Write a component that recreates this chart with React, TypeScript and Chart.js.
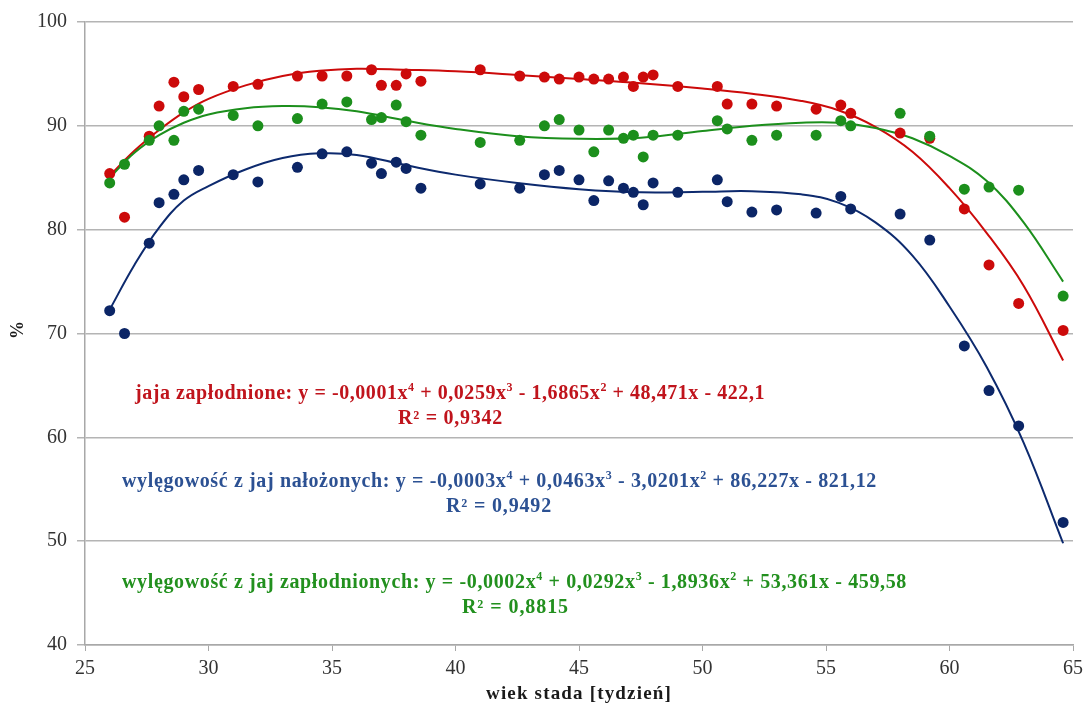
import React, { useEffect, useRef } from "react";
import { Chart, registerables } from "chart.js";

Chart.register(...registerables);

// wiek stada [tydzień]
const weeks = [26, 26.6, 27.6, 28, 28.6, 29, 29.6, 31, 32, 33.6, 34.6, 35.6, 36.6, 37, 37.6, 38, 38.6, 41, 42.6, 43.6, 44.2, 45, 45.6, 46.2, 46.8, 47.2, 47.6, 48, 49, 50.6, 51, 52, 53, 54.6, 55.6, 56, 58, 59.2, 60.6, 61.6, 62.8, 64.6];

const jajaZaplodnione = [85.4, 81.2, 89.0, 91.9, 94.2, 92.8, 93.5, 93.8, 94.0, 94.8, 94.8, 94.8, 95.4, 93.9, 93.9, 95.0, 94.3, 95.4, 94.8, 94.7, 94.5, 94.7, 94.5, 94.5, 94.7, 93.8, 94.7, 94.9, 93.8, 93.8, 92.1, 92.1, 91.9, 91.6, 92.0, 91.2, 89.3, 88.8, 82.0, 76.6, 72.9, 70.3];

const wylegNalozonych = [72.2, 70.0, 78.7, 82.6, 83.4, 84.8, 85.7, 85.3, 84.6, 86.0, 87.3, 87.5, 86.4, 85.4, 86.5, 85.9, 84.0, 84.4, 84.0, 85.3, 85.7, 84.8, 82.8, 84.7, 84.0, 83.6, 82.4, 84.5, 83.6, 84.8, 82.7, 81.7, 81.9, 81.6, 83.2, 82.0, 81.5, 79.0, 68.8, 64.5, 61.1, 51.8];

const wylegZaplodnionych = [84.5, 86.3, 88.6, 90.0, 88.6, 91.4, 91.6, 91.0, 90.0, 90.7, 92.1, 92.3, 90.6, 90.8, 92.0, 90.4, 89.1, 88.4, 88.6, 90.0, 90.6, 89.6, 87.5, 89.6, 88.8, 89.1, 87.0, 89.1, 89.1, 90.5, 89.7, 88.6, 89.1, 89.1, 90.5, 90.0, 91.2, 89.0, 83.9, 84.1, 83.8, 73.6];

// trend lines
const trendRedX = [26, 27, 28, 29, 30, 31.5, 33, 34.5, 36, 38, 40, 42.5, 45, 47.5, 50, 52, 54, 55.5, 57, 58.5, 60, 61.5, 63, 64.6];
const trendRedY = [85.2, 87.6, 89.6, 91.3, 92.6, 93.9, 94.8, 95.3, 95.5, 95.4, 95.25, 94.9, 94.5, 94.1, 93.6, 93.1, 92.4, 91.5, 89.9, 87.5, 84.0, 79.7, 74.6, 67.4];

const trendBlueX = [26, 27, 28, 29, 30, 31.5, 33, 34.5, 36, 38, 40, 42.5, 45, 47.5, 50, 52, 54, 55.5, 57, 58.5, 60, 61.5, 63, 64.6];
const trendBlueY = [72.3, 76.6, 80.2, 82.8, 84.2, 85.8, 86.9, 87.35, 87.2, 86.2, 85.3, 84.5, 83.9, 83.6, 83.65, 83.7, 83.4, 82.6, 80.7, 77.5, 72.6, 66.8, 59.5, 49.8];

const trendGreenX = [26, 27, 28, 29, 30, 31.5, 33, 34.5, 36, 38, 40, 42.5, 45, 47.5, 50, 52, 54, 55.5, 57, 58.5, 60, 61.5, 63, 64.6];
const trendGreenY = [85.0, 87.4, 89.1, 90.3, 91.1, 91.7, 91.9, 91.8, 91.4, 90.5, 89.7, 89.0, 88.75, 88.85, 89.5, 90.0, 90.3, 90.3, 89.8, 88.8, 87.1, 84.7, 80.7, 75.0];

const xTicks = [25, 30, 35, 40, 45, 50, 55, 60, 65];
const yTicks = [40, 50, 60, 70, 80, 90, 100];

const xTitle = "wiek stada [tydzień]";
const yTitle = "%";

type Seg = { t: string; sup?: boolean };
const eqRed: Seg[] = [
  { t: "jaja zapłodnione: y = -0,0001x" }, { t: "4", sup: true },
  { t: " + 0,0259x" }, { t: "3", sup: true },
  { t: " - 1,6865x" }, { t: "2", sup: true },
  { t: " + 48,471x - 422,1" },
];
const r2Red = "R² = 0,9342";
const eqBlue: Seg[] = [
  { t: "wylęgowość z jaj nałożonych: y = -0,0003x" }, { t: "4", sup: true },
  { t: " + 0,0463x" }, { t: "3", sup: true },
  { t: " - 3,0201x" }, { t: "2", sup: true },
  { t: " + 86,227x - 821,12" },
];
const r2Blue = "R² = 0,9492";
const eqGreen: Seg[] = [
  { t: "wylęgowość z jaj zapłodnionych: y = -0,0002x" }, { t: "4", sup: true },
  { t: " + 0,0292x" }, { t: "3", sup: true },
  { t: " - 1,8936x" }, { t: "2", sup: true },
  { t: " + 53,361x - 459,58" },
];
const r2Green = "R² = 0,8815";

const RED = "#cc0a0a";
const RED_TXT = "#c0141c";
const GREEN = "#1c8f1c";
const GREEN_TXT = "#22901e";
const BLUE = "#0b2566";
const BLUE_LINE = "#0d2a6e";
const BLUE_TXT = "#2c5193";

const SERIF = "'Liberation Serif', 'Times New Roman', serif";

function toPts(xs: number[], ys: number[]) {
  return xs.map((x, i) => ({ x, y: ys[i] }));
}

function drawRich(ctx: CanvasRenderingContext2D, segs: Seg[], x: number, y: number, target: number, size: number, color: string) {
  const main = `bold ${size}px ${SERIF}`;
  const small = `bold ${Math.round(size * 0.62)}px ${SERIF}`;
  (ctx as any).letterSpacing = "0px";
  let natural = 0;
  let chars = 0;
  const widths: number[] = [];
  for (const s of segs) {
    ctx.font = s.sup ? small : main;
    const w = ctx.measureText(s.t).width;
    widths.push(w);
    natural += w;
    chars += s.t.length;
  }
  const ls = (target - natural) / chars;
  (ctx as any).letterSpacing = `${ls}px`;
  ctx.fillStyle = color;
  ctx.textBaseline = "alphabetic";
  ctx.textAlign = "left";
  let cx = x;
  const base = y + size * 0.33;
  segs.forEach((s, i) => {
    ctx.font = s.sup ? small : main;
    ctx.fillText(s.t, cx, s.sup ? base - size * 0.38 : base);
    cx += widths[i] + ls * s.t.length;
  });
  (ctx as any).letterSpacing = "0px";
}

const textPlugin = {
  id: "equationsText",
  afterDraw(chart: any) {
    const ctx: CanvasRenderingContext2D = chart.ctx;
    ctx.save();
    drawRich(ctx, eqRed, 135, 392, 630, 20, RED_TXT);
    drawRich(ctx, [{ t: r2Red }], 398, 417, 105, 20, RED_TXT);
    drawRich(ctx, eqBlue, 122, 480, 755, 20, BLUE_TXT);
    drawRich(ctx, [{ t: r2Blue }], 446, 505, 106, 20, BLUE_TXT);
    drawRich(ctx, eqGreen, 122, 581, 785, 20, GREEN_TXT);
    drawRich(ctx, [{ t: r2Green }], 462, 606, 107, 20, GREEN_TXT);
    // axis titles
    drawRich(ctx, [{ t: xTitle }], 486, 693, 186, 19, "#1a1a1a");
    ctx.translate(18, 330);
    ctx.rotate(-Math.PI / 2);
    ctx.font = `bold 18px ${SERIF}`;
    ctx.fillStyle = "#1a1a1a";
    ctx.textAlign = "center";
    ctx.textBaseline = "middle";
    ctx.fillText(yTitle, 0, 0);
    ctx.restore();
  },
};

export default function App() {
  const ref = useRef<HTMLCanvasElement | null>(null);
  useEffect(() => {
    if (!ref.current) return;
    const pointDs = (label: string, ys: number[], color: string) => ({
      label,
      data: toPts(weeks, ys),
      showLine: false,
      pointRadius: 5.5,
      pointHoverRadius: 5.5,
      pointBackgroundColor: color,
      pointBorderColor: color,
      pointBorderWidth: 0,
    });
    const lineDs = (label: string, xs: number[], ys: number[], color: string) => ({
      label,
      data: toPts(xs, ys),
      showLine: true,
      pointRadius: 0,
      borderColor: color,
      borderWidth: 2,
      tension: 0.4,
      fill: false,
    });
    const chart = new Chart(ref.current, {
      type: "scatter",
      data: {
        datasets: [
          pointDs("wylęgowość z jaj zapłodnionych", wylegZaplodnionych, GREEN),
          pointDs("jaja zapłodnione", jajaZaplodnione, RED),
          pointDs("wylęgowość z jaj nałożonych", wylegNalozonych, BLUE),
          lineDs("trend zapłodnionych", trendGreenX, trendGreenY, GREEN),
          lineDs("trend jaja zapłodnione", trendRedX, trendRedY, RED),
          lineDs("trend nałożonych", trendBlueX, trendBlueY, BLUE_LINE),
        ] as any,
      },
      options: {
        animation: false,
        responsive: true,
        maintainAspectRatio: false,
        layout: { padding: { top: 21, right: 12, left: 0, bottom: 0 } },
        plugins: { legend: { display: false }, tooltip: { enabled: false } },
        scales: {
          x: {
            type: "linear",
            min: 25,
            max: 65,
            afterBuildTicks: (s: any) => { s.ticks = xTicks.map((v) => ({ value: v })); },
            afterFit: (s: any) => { s.height = 66; },
            ticks: { font: { family: SERIF, size: 20 }, color: "#333333", padding: 6 },
            grid: { drawOnChartArea: false, tickLength: 6, color: "#a8a8a8" },
            border: { color: "#a8a8a8", width: 1.5 },
          },
          y: {
            min: 40,
            max: 100,
            afterBuildTicks: (s: any) => { s.ticks = yTicks.map((v) => ({ value: v })); },
            afterFit: (s: any) => { s.width = 85; },
            ticks: { font: { family: SERIF, size: 20 }, color: "#333333", padding: 10 },
            grid: { color: "#b4b4b4", lineWidth: 1.5, tickLength: 8 },
            border: { color: "#a8a8a8", width: 1.5 },
          },
        },
      },
      plugins: [textPlugin],
    });
    return () => chart.destroy();
  }, []);
  return (
    <div style={{ position: "fixed", left: 0, top: 0, width: 1089, height: 711, background: "#fff" }}>
      <canvas ref={ref} />
    </div>
  );
}
